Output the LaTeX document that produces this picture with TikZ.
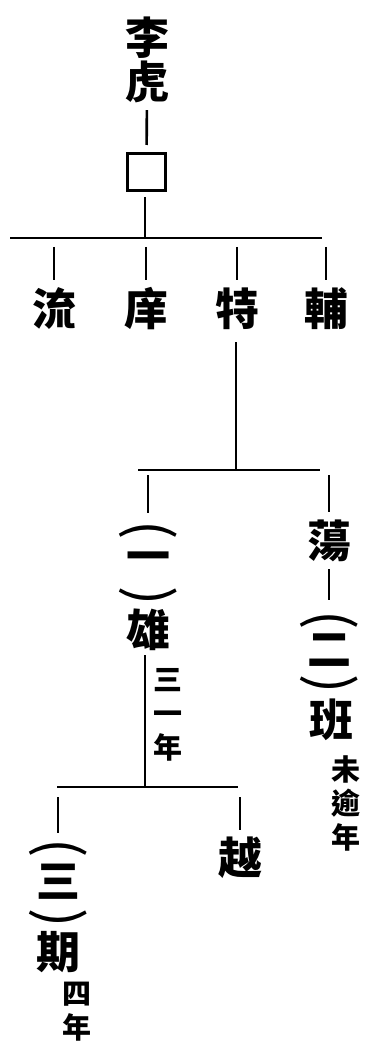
\documentclass[tikz,border=0pt]{standalone}
\usepackage{fontspec}
\newfontfamily\cjk{Noto Sans CJK TC}

\begin{document}
\begin{tikzpicture}[
    x=1pt, y=-1pt,
    person/.style={font=\cjk\bfseries\fontsize{44}{44}\selectfont, inner sep=0pt},
    note/.style={font=\cjk\bfseries\fontsize{29}{34}\selectfont, inner sep=0pt, align=center},
    paren/.style={font=\cjk\fontsize{57}{57}\selectfont, inner sep=0pt, rotate=-90},
    gapbox/.style={rectangle, draw, line width=3pt, minimum width=38pt, minimum height=37pt, inner sep=0pt},
    link/.style={line width=2.6pt}
]
    \fill[white] (0,0) rectangle (369,1048);
    \useasboundingbox (0,0) rectangle (369,1048);

    % first generation
    \node[person] (li) at (147,38) {李};
    \node[person] (hu) at (147,82) {虎};
    \node[gapbox] (gap) at (146.5,172) {};

    % sons
    \node[person] (liu) at (54,309) {流};
    \node[person] (xiang) at (146,309) {庠};
    \node[person] (te) at (237,309) {特};
    \node[person] (fu) at (326,309) {輔};

    % grandsons
    \node[paren] (po1) at (148,530) {(};
    \node[person] (one1) at (148,562) {一};
    \node[paren] (pc1) at (148,596) {)};
    \node[person] (xiong) at (148,630) {雄};
    \node[note] (reign1) at (168,715) {三\\一\\年};

    \node[person] (dang) at (329,541) {蕩};
    \node[paren] (po2) at (329,620) {(};
    \node[person] (two2) at (329,650) {二};
    \node[paren] (pc2) at (329,684) {)};
    \node[person] (ban) at (331,720) {班};
    \node[note] (reign2) at (346,803) {未\\逾\\年};

    % great-grandsons
    \node[paren] (po3) at (58,848) {(};
    \node[person] (three3) at (58,882) {三};
    \node[paren] (pc3) at (58,918) {)};
    \node[person] (qi) at (58,952) {期};
    \node[note] (reign3) at (77,1012) {四\\年};

    \node[person] (yue) at (240,858) {越};

    \coordinate (j1) at (145,238);
    \coordinate (bar1w) at (10,238);
    \coordinate (bar1e) at (322,238);
    \coordinate (j2) at (236,470);
    \coordinate (bar2w) at (138,470);
    \coordinate (bar2e) at (320,470);
    \coordinate (j3) at (145,787);
    \coordinate (bar3w) at (57,787);
    \coordinate (bar3e) at (238,787);

    \draw[link, shorten <=7pt, shorten >=7pt] (hu) -- (gap);
    \draw[link, shorten <=5pt] (gap.south -| j1) -- (j1);
    \draw[link] (bar1w) -- (bar1e);
    \foreach \son in {liu, xiang, te, fu}
        \draw[link, shorten <=9pt, shorten >=8pt] (\son |- bar1w) -- (\son);

    \draw[link, shorten <=12pt] (te.south -| j2) -- (j2);
    \draw[link] (bar2w) -- (bar2e);
    \draw[link, shorten <=5pt, shorten >=7pt] (po1 |- bar2w) -- (po1);
    \draw[link, shorten <=5pt, shorten >=8pt] (dang |- bar2w) -- (dang);
    \draw[link, shorten <=7pt, shorten >=10pt] (dang) -- (po2);

    \draw[link, shorten <=4pt] (xiong.south -| j3) -- (j3);
    \draw[link] (bar3w) -- (bar3e);
    \draw[link, shorten <=10pt, shorten >=5pt] (po3 |- bar3w) -- (po3);
    \draw[link, shorten <=10pt, shorten >=7pt] (yue |- bar3w) -- (yue);
\end{tikzpicture}
\end{document}
